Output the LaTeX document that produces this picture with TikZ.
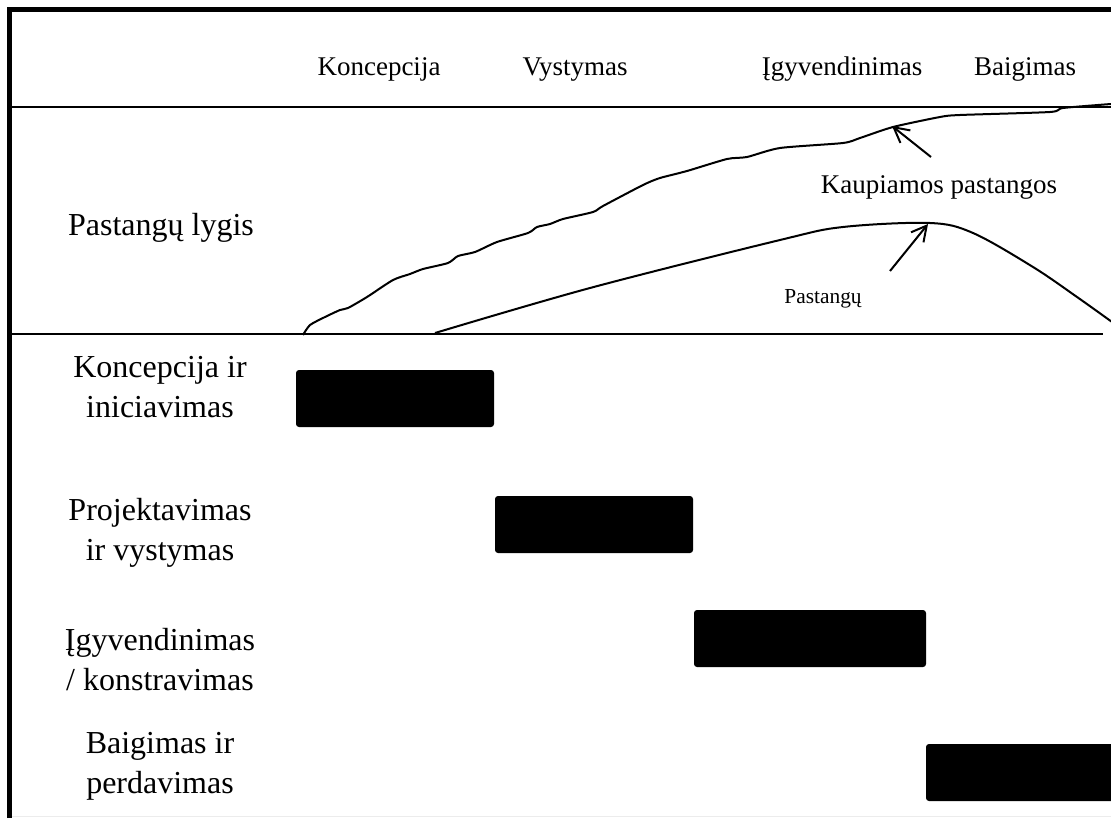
\documentclass[tikz,border=0pt]{standalone}
\usepackage{fontspec}
\setmainfont{Liberation Serif}
\usetikzlibrary{arrows.meta}

\begin{document}
\begin{tikzpicture}[x=0.5pt,y=-0.5pt,
  rule/.style={line width=1pt},
  curve/.style={line width=1pt,line join=round},
  phase/.style={font=\fontsize{13.5}{16}\selectfont,anchor=base,inner sep=0pt},
  stage/.style={font=\fontsize{16}{20}\selectfont,align=center,inner sep=0pt},
  bar/.style={fill=black,rounded corners=1.5pt},
  pointer/.style={line width=1pt,-{Straight Barb[length=7.5pt,width=8pt]}}]
  \useasboundingbox (0,0) rectangle (1111,818);
  % frame and rules
  \draw[line width=2.5pt] (9.5,818) -- (9.5,10) -- (1111,10);
  \draw[rule] (12,107) -- (1111,107);
  \draw[rule] (12,334) -- (1103,334);
  \draw[gray!15] (12,816.5) -- (1111,816.5);
  % phase names on top
  \foreach \nm/\xx/\txt in {kon/379/Koncepcija,vys/575/Vystymas,igy/842/Įgyvendinimas,bai/1025/Baigimas}
    \node[phase] (\nm) at (\xx,76) {\txt};
  % effort level
  \node[stage] (lygis) at (161,228) {Pastangų lygis};
  % cumulative effort, drawn by hand
  \draw[curve] plot[smooth,tension=0.4] coordinates {(303,335) (310,325) (325,317) (340,310) (348,308)
    (367,297) (393,280) (410,274) (423,269) (448,263) (458,256) (475,252) (497,242) (528,233)
    (537,227) (550,224) (563,219) (593,212) (603,206) (643,185) (660,178) (687,171) (727,159)
    (747,157) (780,148) (843,143) (860,138) (893,127) (940,117) (960,115) (1050,112) (1063,108)
    (1111,104)};
  % effort per phase
  \draw[curve] plot[smooth,tension=0.55] coordinates {(435,333) (590,288) (780,240) (843,227)
    (930,223) (973,233) (1033,267) (1077,297) (1112,322)};
  \node[phase] (kaup) at (939,193) {Kaupiamos pastangos};
  \node[phase,font=\fontsize{10.7}{13}\selectfont] (past) at (823,303) {Pastangų};
  \coordinate (kaupTail) at (931,157);
  \coordinate (kaupTip) at (892,126);
  \coordinate (pasTail) at (890,271);
  \coordinate (pasTip) at (928,224);
  \draw[pointer] (kaupTail) -- (kaupTip);
  \draw[pointer] (pasTail) -- (pasTip);
  % stages and their bars
  \node[stage] (st1) at (160,387) {Koncepcija ir\\iniciavimas};
  \node[stage] (st2) at (160,533) {Projektavimas\\ir vystymas};
  \node[stage] (st3) at (160,660) {Įgyvendinimas\\/ konstravimas};
  \node[stage] (st4) at (160,766) {Baigimas ir\\perdavimas};
  \foreach \xa/\xb/\ya in {296/494/370,495/693/496,694/926/610,926/1114/744}
    \fill[bar] (\xa,\ya) rectangle (\xb,{\ya+57});
\end{tikzpicture}
\end{document}
